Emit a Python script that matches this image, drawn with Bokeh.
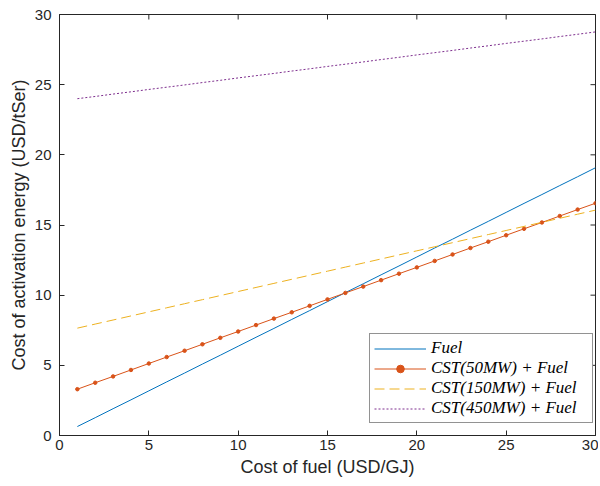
import math
from bokeh.plotting import figure
from bokeh.models import FixedTicker, Range1d, Legend, LegendItem
from bokeh.embed import file_html
from bokeh.resources import INLINE

fuel_cost = list(range(1, 31))
fuel = [0.64, 1.27, 1.91, 2.54, 3.18, 3.82, 4.45, 5.09, 5.72, 6.36,
        7.00, 7.63, 8.27, 8.90, 9.54, 10.18, 10.81, 11.45, 12.08, 12.72,
        13.36, 13.99, 14.63, 15.26, 15.90, 16.54, 17.17, 17.81, 18.44, 19.08]
cst50 = [3.30, 3.76, 4.21, 4.67, 5.13, 5.59, 6.04, 6.50, 6.96, 7.41,
         7.87, 8.33, 8.78, 9.24, 9.70, 10.16, 10.61, 11.07, 11.53, 11.98,
         12.44, 12.90, 13.36, 13.81, 14.27, 14.73, 15.18, 15.64, 16.10, 16.55]
cst150 = [7.65, 7.94, 8.23, 8.52, 8.81, 9.10, 9.39, 9.68, 9.97, 10.26,
          10.55, 10.84, 11.13, 11.42, 11.71, 12.00, 12.29, 12.58, 12.87, 13.16,
          13.45, 13.74, 14.03, 14.32, 14.61, 14.90, 15.19, 15.48, 15.77, 16.06]
cst450 = [24.00, 24.16, 24.33, 24.49, 24.66, 24.82, 24.98, 25.15, 25.31, 25.48,
          25.64, 25.80, 25.97, 26.13, 26.30, 26.46, 26.62, 26.79, 26.95, 27.12,
          27.28, 27.44, 27.61, 27.77, 27.94, 28.10, 28.26, 28.43, 28.59, 28.76]
ticks = [0, 5, 10, 15, 20, 25, 30]
labels = ["Fuel", "CST(50MW) + Fuel", "CST(150MW) + Fuel", "CST(450MW) + Fuel"]
x_min, x_max = 0, 30
y_min, y_max = 0, 30

AX = "#262626"
FONT = "Liberation Sans"

p = figure(width=598, height=484, output_backend="svg", toolbar_location=None,
           x_range=Range1d(x_min, x_max), y_range=Range1d(y_min, y_max),
           min_border_left=59, min_border_right=3, min_border_top=14, min_border_bottom=49)
p.grid.visible = False
p.outline_line_color = AX
p.outline_line_width = 1

for ax in (p.xaxis[0], p.yaxis[0]):
    ax.ticker = FixedTicker(ticks=ticks)
    ax.axis_line_color = AX
    ax.major_tick_line_color = AX
    ax.major_tick_in = 5
    ax.major_tick_out = 0
    ax.minor_tick_line_color = None
    ax.major_label_text_color = AX
    ax.major_label_text_font = FONT
    ax.major_label_text_font_size = "15px"
    ax.axis_label_text_font = FONT
    ax.axis_label_text_font_size = "18px"
    ax.axis_label_text_font_style = "normal"
    ax.axis_label_text_color = AX

p.xaxis.axis_label = "Cost of fuel (USD/GJ)"
p.yaxis.axis_label = "Cost of activation energy (USD/tSer)"
p.xaxis.major_label_standoff = 4
p.xaxis.axis_label_standoff = 4
p.yaxis.major_label_standoff = 8
p.yaxis.axis_label_standoff = 3

# inward ticks on the top and right frame edges (box on)
p.scatter(x=ticks, y=[y_max] * len(ticks), marker="dash", size=10, angle=math.pi / 2,
          line_color=AX, line_width=1)
p.scatter(x=[x_max] * len(ticks), y=ticks, marker="dash", size=10,
          line_color=AX, line_width=1)

r1 = p.line(fuel_cost, fuel, line_color="#0072BD", line_width=1)
r2 = p.line(fuel_cost, cst50, line_color="#D95319", line_width=1)
r2m = p.scatter(fuel_cost, cst50, size=3.5, marker="circle", fill_color="#D95319", line_color="#D95319")
r3 = p.line(fuel_cost, cst150, line_color="#EDB120", line_width=1, line_dash="10 5")
r4 = p.line(fuel_cost, cst450, line_color="#7E2F8E", line_width=1, line_dash="2 2")

legend = Legend(items=[
    LegendItem(label=labels[0], renderers=[r1]),
    LegendItem(label=labels[1], renderers=[r2, r2m]),
    LegendItem(label=labels[2], renderers=[r3]),
    LegendItem(label=labels[3], renderers=[r4]),
], location=(310, 12))
legend.label_text_font = "Liberation Serif"
legend.label_text_font_style = "italic"
legend.label_text_font_size = "17px"
legend.label_text_color = "black"
legend.glyph_width = 52
legend.glyph_height = 19
legend.label_height = 19
legend.label_width = 157
legend.label_standoff = 5
legend.spacing = 0
legend.padding = 4
legend.margin = 0
legend.border_line_color = AX
legend.border_line_width = 1
legend.background_fill_color = "white"
legend.background_fill_alpha = 1
p.add_layout(legend, "center")

open("out.html", "w").write(file_html(p, INLINE))
